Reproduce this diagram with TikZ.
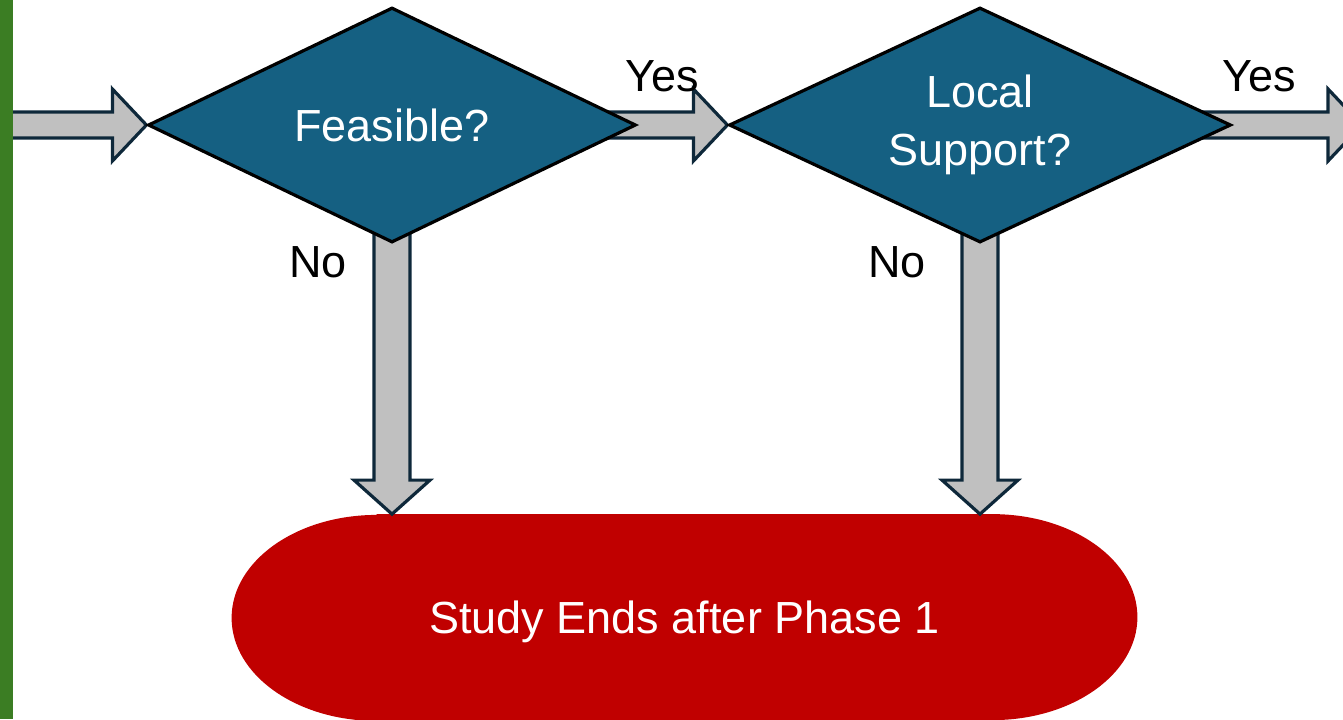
\documentclass[tikz,border=0pt]{standalone}
\usepackage{fontspec}
\setmainfont{Liberation Sans}
\usetikzlibrary{shapes.geometric,calc,backgrounds}

\definecolor{barGreen}{RGB}{59,125,35}
\definecolor{decBlue}{RGB}{21,96,130}
\definecolor{arrowGray}{RGB}{192,192,192}
\definecolor{arrowLine}{RGB}{14,40,58}
\definecolor{endRed}{RGB}{192,0,0}

% block arrows: #1 = start, #2 = tip
\newcommand{\harrow}[2]{%
  \draw[blockarrow] ($(#1)+(0,13)$) -- ($(#2)+(-34,13)$) -- ($(#2)+(-34,36)$) -- (#2)
    -- ($(#2)+(-34,-36)$) -- ($(#2)+(-34,-13)$) -- ($(#1)+(0,-13)$) -- cycle;}
\newcommand{\varrow}[2]{%
  \draw[blockarrow] ($(#1)+(-18,0)$) -- ($(#2)+(-18,34)$) -- ($(#2)+(-38,34)$) -- (#2)
    -- ($(#2)+(38,34)$) -- ($(#2)+(18,34)$) -- ($(#1)+(18,0)$) -- cycle;}

\begin{document}
\begin{tikzpicture}[x=0.5pt,y=0.5pt,
  font=\fontsize{22.5}{29}\selectfont,
  decision/.style={diamond,draw=black,line width=1.6pt,fill=decBlue,text=white,
    inner sep=0pt,aspect=2,align=center},
  blockarrow/.style={draw=arrowLine,line width=1.6pt,fill=arrowGray,line join=miter},
  label/.style={text=black,inner sep=0pt}]
\useasboundingbox (0,0) rectangle (1343,-719);
\clip (0,0) rectangle (1343,-719);

% decisions
\node[decision,minimum width=244pt,minimum height=117.5pt] (feas) at (392,-125) {Feasible?};
\node[decision,minimum width=251pt,minimum height=117.5pt] (loc) at (980,-125) {Local\\Support?};

% terminal
\node[minimum width=452.5pt,minimum height=103pt,text=white,text depth=0pt] (stop) at (684.5,-617.5)
  {Study Ends after Phase 1};
\begin{pgfonlayer}{background}
\fill[endRed] ($(stop.north west)+(145,0)$) -- ($(stop.north east)+(-145,0)$)
  arc[start angle=90,end angle=-90,x radius=145,y radius=103]
  -- ($(stop.south west)+(145,0)$)
  arc[start angle=270,end angle=90,x radius=145,y radius=103] -- cycle;
\end{pgfonlayer}

% left bar
\fill[barGreen] (0,0) rectangle (13,-719);
\coordinate (entry) at (8,-125);
\coordinate (exit) at (1362,-125);

% connectors
\begin{pgfonlayer}{background}
\harrow{entry}{feas.west}
\harrow{feas.center}{loc.west}
\harrow{loc.center}{exit}
\varrow{feas.center}{feas.center |- stop.north}
\varrow{loc.center}{loc.center |- stop.north}
\end{pgfonlayer}

% labels
\node[label] (yes1) at (662,-76) {Yes};
\node[label] (yes2) at (1259,-76) {Yes};
\node[label] (no1) at (318,-262) {No};
\node[label] (no2) at (897,-262) {No};
\end{tikzpicture}
\end{document}
